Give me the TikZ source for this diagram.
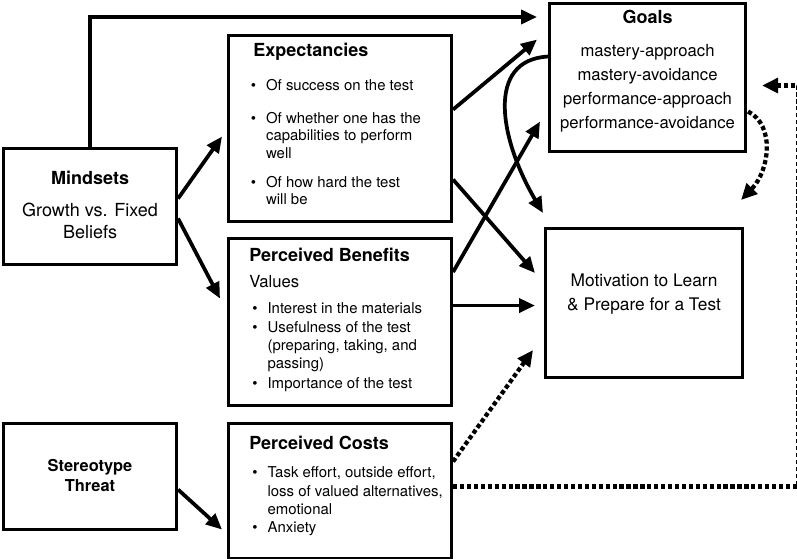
\documentclass[tikz,border=0pt]{standalone}
\usepackage{fontspec}
\setmainfont{TeX Gyre Heros}
\usetikzlibrary{calc, arrows.meta}
\newcommand{\bul}{\makebox[11.5pt][l]{\textbullet}}

\begin{document}
\begin{tikzpicture}[x=0.75pt, y=-0.75pt,
  blk/.style={draw, line width=2.3pt, inner sep=0pt, anchor=north west},
  txt/.style={inner sep=0pt},
  head/.style={txt, font=\fontsize{13.5}{16}\selectfont\bfseries},
  lst/.style={txt, anchor=base west, font=\fontsize{11.2}{13.6}\selectfont},
  arr/.style={line width=2.8pt, -{Triangle[length=12pt, width=10.5pt]}},
  dotarr/.style={line width=3.2pt, dash pattern=on 3.2pt off 2pt,
    -{Triangle[length=12pt, width=11pt]}}]
  \useasboundingbox (0,0) rectangle (797,559);
  % boxes
  \node[blk, minimum width=129.75pt, minimum height=87pt]     (mind)    at (2,147) {};
  \node[blk, minimum width=129.75pt, minimum height=79.5pt]   (stbox)   at (2,422) {};
  \node[blk, minimum width=167.25pt, minimum height=139.5pt]  (expbox)  at (227,34) {};
  \node[blk, minimum width=167.25pt, minimum height=125.25pt] (benbox)  at (227,237) {};
  \node[blk, minimum width=167.25pt, minimum height=101.25pt] (costbox) at (227,422) {};
  \node[blk, minimum width=147pt,    minimum height=111pt]    (goalbox) at (548,2) {};
  \node[blk, minimum width=147.75pt, minimum height=111.75pt] (motbox)  at (544,227) {};
  % texts
  \node[head, anchor=base] (mindhead) at ($(mind.north)+(0,38)$) {Mindsets};
  \node[txt, anchor=base, font=\fontsize{13.5}{16.5}\selectfont] (mindtxt)
    at ($(mind.north)+(0,70)$) {\begin{tabular}[t]{@{}c@{}}Growth vs. Fixed\\Beliefs\end{tabular}};
  \node[txt, anchor=base, font=\fontsize{12.3}{15}\selectfont\bfseries] (sttxt)
    at ($(stbox.north)+(0,50)$) {\begin{tabular}[t]{@{}c@{}}Stereotype\\Threat\end{tabular}};
  \node[head, anchor=base west] (exphead) at ($(expbox.north west)+(26,23)$) {Expectancies};
  \node[lst, font=\fontsize{11.2}{13.2}\selectfont] (explist) at ($(expbox.north west)+(23.5,57)$)
    {\begin{tabular}[t]{@{}l@{}l@{}}
      \bul & Of success on the test\\[11pt]
      \bul & Of whether one has the\\
           & capabilities to perform\\
           & well\\[8.5pt]
      \bul & Of how hard the test\\
           & will be
    \end{tabular}};
  \node[head, anchor=base west] (benhead) at ($(benbox.north west)+(22,25)$) {Perceived Benefits};
  \node[txt, anchor=base west, font=\fontsize{12.5}{15}\selectfont] (benval)
    at ($(benbox.north west)+(22,51)$) {Values};
  \node[lst] (benlist) at ($(benbox.north west)+(25,77)$)
    {\begin{tabular}[t]{@{}l@{}l@{}}
      \bul & Interest in the materials\\
      \bul & Usefulness of the test\\
           & (preparing, taking, and\\
           & passing)\\[1.5pt]
      \bul & Importance of the test
    \end{tabular}};
  \node[head, anchor=base west] (costhead) at ($(costbox.north west)+(22,28)$) {Perceived Costs};
  \node[lst] (costlist) at ($(costbox.north west)+(25,56)$)
    {\begin{tabular}[t]{@{}l@{}l@{}}
      \bul & Task effort, outside effort,\\
           & loss of valued alternatives,\\
           & emotional\\
      \bul & Anxiety
    \end{tabular}};
  \node[head, anchor=base] (goalhead) at ($(goalbox.north)+(0,22)$) {Goals};
  \node[txt, anchor=base, font=\fontsize{12.5}{18}\selectfont] (goallist)
    at ($(goalbox.north)+(0,55)$)
    {\begin{tabular}[t]{@{}c@{}}mastery-approach\\mastery-avoidance\\
      performance-approach\\performance-avoidance\end{tabular}};
  \node[txt, anchor=base, font=\fontsize{13}{18}\selectfont] (mottxt)
    at ($(motbox.north)+(0,60)$)
    {\begin{tabular}[t]{@{}c@{}}Motivation to Learn\\\& Prepare for a Test\end{tabular}};
  % solid connectors
  \draw[arr] (mind.north) |- ($(goalbox.north west)+(-11,15)$);
  \draw[arr] ($(mind.east)+(0,-8)$) -- ($(expbox.west)+(-5,8)$);
  \draw[arr] ($(mind.east)+(0,12)$) -- ($(benbox.west)+(-7,-23.5)$);
  \draw[arr] ($(stbox.east)+(0,13)$) -- ($(costbox.west)+(-5,38.5)$);
  \draw[arr] ($(expbox.east)+(0,-19)$) -- ($(goalbox.west)+(-11,-38)$);
  \draw[arr] ($(expbox.east)+(0,51)$) -- ($(motbox.west)+(-9,-30)$);
  \draw[arr] ($(benbox.east)+(0,-50)$) -- ($(goalbox.west)+(-8,44)$);
  \draw[arr] ($(benbox.east)+(0,-16.5)$) -- ($(motbox.west)+(-9,2.5)$);
  \draw[arr] ($(goalbox.west)+(0,-21)$) .. controls (485,60) and (500,140)
    .. ($(motbox.north west)+(-1,-14)$);
  % dotted connectors
  \draw[dotarr] ($(costbox.east)+(0,-29.5)$) -- ($(motbox.south west)+(-11,-29)$);
  \draw[dotarr] ($(goalbox.east)+(1,34)$) .. controls (775,125) and (770,170)
    .. ($(motbox.north east)+(-3,-27)$);
  \draw[dotarr] ($(costbox.east)+(0,-4.5)$) -| ($(goalbox.east)+(51,8)$)
    -- ($(goalbox.east)+(15,8)$);
\end{tikzpicture}
\end{document}
